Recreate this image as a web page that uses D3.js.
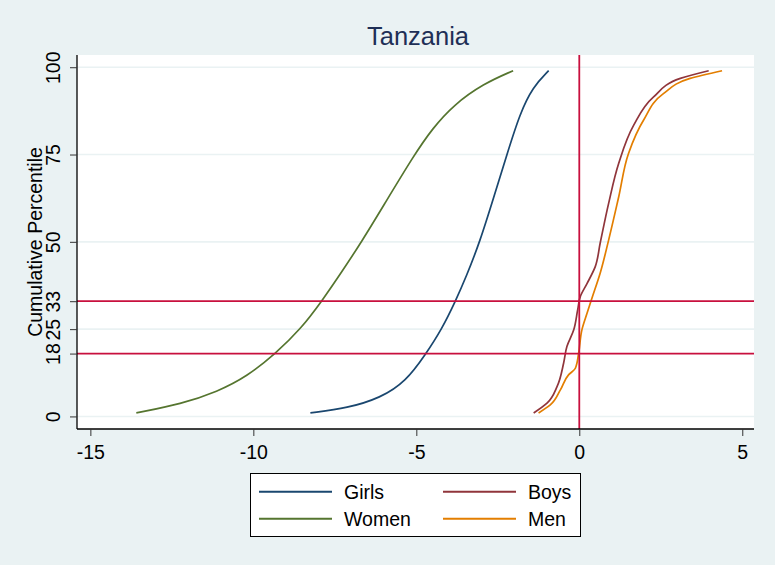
<!DOCTYPE html>
<html>
<head>
<meta charset="utf-8">
<script src="https://cdn.jsdelivr.net/npm/d3@7"></script>
<style>
  html, body { margin: 0; padding: 0; background: #EAF2F3; }
  svg { display: block; }
  text { font-family: "Liberation Sans", Arial, sans-serif; }
</style>
</head>
<body>
<svg id="chart" width="775" height="565"></svg>
<script>
const title = "Tanzania";
const yTitle = "Cumulative Percentile";
const xTicks = [-15, -10, -5, 0, 5];
const yTicks = [0, 18, 25, 33, 50, 75, 100];
const yGrid = [0, 25, 50, 75, 100];
const hRefs = [18, 33];
const vRefs = [0];

const seriesNames = ["Girls", "Boys", "Women", "Men"];
const seriesColors = ["#1A476F", "#90353B", "#55752F", "#E37E00"];

const womenX = [-13.59, -12.2, -11.1, -10.2, -9.32, -8.55, -7.9, -7.28, -6.68, -6.03, -5.06, -4.5, -3.87, -2.94, -2.03];
const womenP = [1.0, 3.6, 7.1, 11.4, 18, 25, 33, 41.5, 50, 60, 75, 82.5, 89.1, 95.3, 99];

const girlsX = [-8.25, -7.1, -6.1, -5.32, -4.7, -4.22, -3.8, -3.47, -3.05, -2.62, -2.22, -1.82, -1.42, -0.94];
const girlsP = [1.0, 2.4, 5.3, 10, 18, 25, 33, 40, 50, 62.9, 75, 86.8, 94.4, 99];

const boysX = [-1.40, -0.99, -0.68, -0.48, -0.38, -0.17, -0.05, 0.03, 0.24, 0.49, 0.64, 0.90, 1.21, 1.67, 2.28, 3.10, 3.97];
const boysP = [1.0, 3.8, 8.6, 15.3, 20, 24.8, 30.5, 34.3, 38.1, 42.9, 49.6, 61, 72.5, 83.4, 91.5, 96.8, 99];

const menX = [-1.25, -0.89, -0.58, -0.33, -0.12, -0.02, 0.08, 0.24, 0.39, 0.64, 0.90, 1.21, 1.51, 1.97, 2.59, 3.40, 4.38];
const menP = [1.0, 3.3, 7.6, 11.9, 13.8, 18.1, 24.8, 29.6, 33.9, 41, 50.5, 62.9, 75.3, 84.8, 92.5, 96.8, 99];

const seriesData = {
  Girls: [girlsX, girlsP],
  Boys: [boysX, boysP],
  Women: [womenX, womenP],
  Men: [menX, menP]
};
const smoothSeries = ["Girls", "Women"];

const svg = d3.select("#chart");
const W = 775, H = 565;
const FS = 19.5;
svg.append("rect").attr("width", W).attr("height", H).attr("fill", "#EAF2F3");

const plot = { left: 77, right: 754, top: 55, bottom: 429 };
const x = d3.scaleLinear().domain([-15.41, 5.36]).range([plot.left, plot.right]);
const y = d3.scaleLinear().domain([-3.6, 103.5]).range([plot.bottom, plot.top]);

svg.append("rect")
  .attr("x", plot.left).attr("y", plot.top)
  .attr("width", plot.right - plot.left).attr("height", plot.bottom - plot.top)
  .attr("fill", "#FFFFFF");

// grid
svg.append("g").selectAll("line").data(yGrid).join("line")
  .attr("x1", plot.left).attr("x2", plot.right)
  .attr("y1", d => y(d)).attr("y2", d => y(d))
  .attr("stroke", "#EAF2F3").attr("stroke-width", 1.6);

// title
svg.append("text").attr("x", 418).attr("y", 45)
  .attr("text-anchor", "middle").attr("font-size", 25.5)
  .attr("fill", "#1E2F56").text(title);

// series
seriesNames.forEach((name, i) => {
  const [xs, ps] = seriesData[name];
  const pts = xs.map((v, j) => [v, ps[j]]);
  const line = d3.line().x(d => x(d[0])).y(d => y(d[1]))
    .curve(smoothSeries.includes(name) ? d3.curveBasis : d3.curveMonotoneY);
  svg.append("path").datum(pts)
    .attr("d", line)
    .attr("fill", "none")
    .attr("stroke", seriesColors[i])
    .attr("stroke-width", 1.7);
});

// reference lines
svg.append("g").selectAll("line").data(hRefs).join("line")
  .attr("x1", plot.left).attr("x2", plot.right)
  .attr("y1", d => y(d)).attr("y2", d => y(d))
  .attr("stroke", "#C8103E").attr("stroke-width", 1.8);
svg.append("g").selectAll("line").data(vRefs).join("line")
  .attr("x1", d => x(d)).attr("x2", d => x(d))
  .attr("y1", plot.top).attr("y2", plot.bottom)
  .attr("stroke", "#C8103E").attr("stroke-width", 1.8);

// x axis
const fmt = d => String(d);
const xAxis = d3.axisBottom(x).tickValues(xTicks).tickSize(7).tickFormat(fmt);
const gx = svg.append("g").attr("transform", `translate(0,${plot.bottom})`).call(xAxis);
gx.select(".domain").attr("stroke", "#000").attr("stroke-width", 1.3)
  .attr("d", `M${plot.left},0H${plot.right}`);
gx.selectAll(".tick line").attr("stroke", "#333").attr("stroke-width", 1);
gx.selectAll(".tick text").attr("font-size", FS).attr("fill", "#000")
  .attr("font-family", "'Liberation Sans', Arial, sans-serif")
  .attr("y", 29.5).attr("dy", 0);

// y axis
const yAxis = d3.axisLeft(y).tickValues(yTicks).tickSize(7).tickFormat(fmt);
const gy = svg.append("g").attr("transform", `translate(${plot.left},0)`).call(yAxis);
gy.select(".domain").attr("stroke", "#000").attr("stroke-width", 1.3)
  .attr("d", `M0,${plot.top}V${plot.bottom}`);
gy.selectAll(".tick line").attr("stroke", "#333").attr("stroke-width", 1);
gy.selectAll(".tick text")
  .attr("font-size", FS).attr("fill", "#000")
  .attr("font-family", "'Liberation Sans', Arial, sans-serif")
  .attr("x", null)
  .attr("text-anchor", "middle")
  .attr("transform", "translate(-24,0) rotate(-90)")
  .attr("y", 0).attr("dy", "0.36em");

// y title
svg.append("text")
  .attr("transform", `translate(41.5,242) rotate(-90)`)
  .attr("text-anchor", "middle").attr("font-size", FS).attr("fill", "#000")
  .text(yTitle);

// legend
const lg = svg.append("g");
lg.append("rect").attr("x", 250.5).attr("y", 473.5).attr("width", 330).attr("height", 63)
  .attr("fill", "#FFFFFF").attr("stroke", "#000").attr("stroke-width", 1);
const legendOrder = ["Girls", "Boys", "Women", "Men"];
legendOrder.forEach((name, i) => {
  const col = i % 2, row = Math.floor(i / 2);
  const lx = 259 + col * 184, ly = 491.7 + row * 27;
  const c = seriesColors[seriesNames.indexOf(name)];
  lg.append("line").attr("x1", lx).attr("x2", lx + 73).attr("y1", ly).attr("y2", ly)
    .attr("stroke", c).attr("stroke-width", 2);
  lg.append("text").attr("x", lx + 85).attr("y", ly + 7)
    .attr("font-size", FS).attr("fill", "#000").text(name);
});
</script>
</body>
</html>
